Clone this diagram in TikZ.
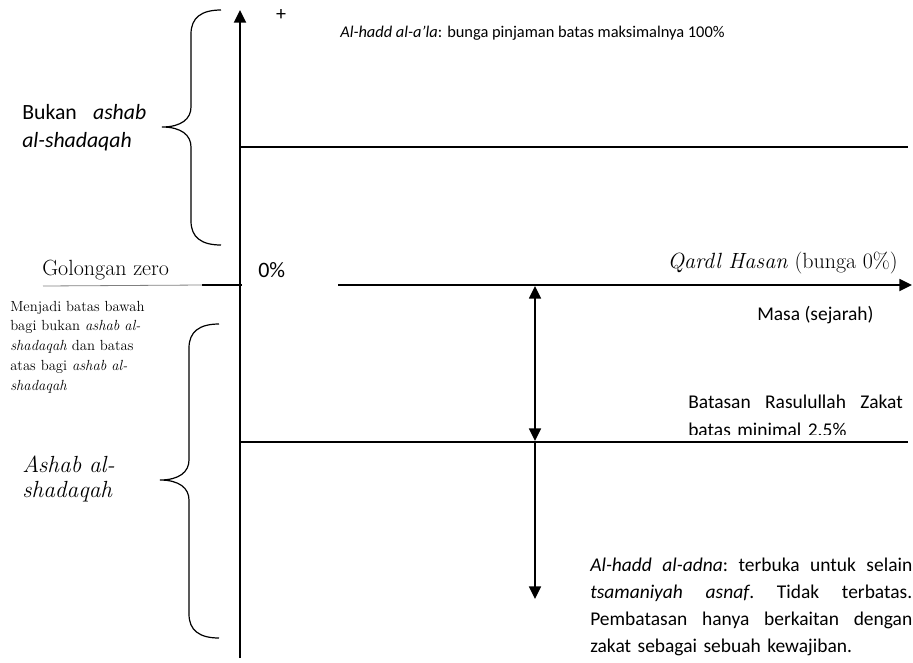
\documentclass[tikz,border=0pt]{standalone}
\usepackage{fontspec}
\newfontfamily\calibri{Carlito}
\usepackage{tikz}
\usetikzlibrary{arrows.meta}

% curly brace: x of the ends, top y, tip y, bottom y
\newcommand{\curlybrace}[4]{%
  \draw[brace, shift={(#1,0)}] (0,#2) .. controls (-20,#2) and (-30,#2+8) .. (-30,#2+24)
    -- (-30,#3-20) .. controls (-30,#3-8) and (-40,#3) .. (-59,#3)
    .. controls (-40,#3) and (-30,#3+8) .. (-30,#3+20)
    -- (-30,#4-24) .. controls (-30,#4-8) and (-20,#4) .. (0,#4);}

\begin{document}
\begin{tikzpicture}[x=0.75pt, y=-0.75pt,
  >={Triangle[length=9.5pt,width=9pt]},
  axis/.style={line width=1.4pt, ->},
  level/.style={line width=1pt},
  brace/.style={line width=0.9pt},
  dbl/.style={line width=1.2pt},
  cal/.style={font=\calibri\fontsize{14.6}{20.25}\selectfont, inner sep=0pt, anchor=base west},
  ser/.style={font=\fontsize{16.5}{20}\selectfont, inner sep=0pt, anchor=base west}]

\useasboundingbox (0,0) rectangle (913,662);

% axes
\coordinate (top) at (240,10);
\coordinate (bot) at (240,658);
\coordinate (left) at (202,285);
\coordinate (right) at (912,285);
\coordinate (gz) at (43,286);
\draw[axis] (bot) -- (top);
\draw[axis] (left) -- (right);
\draw[gray, line width=0.6pt] (gz) -- (left);

% levels
\coordinate (hi) at (240,147);
\coordinate (hiR) at (908,147);
\coordinate (lo) at (240,442);
\coordinate (loR) at (908,442);
\draw[level] (hi) -- (hiR);
\draw[level] (lo) -- (loR);

% range arrows
\coordinate (a1) at (535,286);
\coordinate (a2) at (535,441);
\coordinate (a3) at (535,599);
\draw[dbl, <->] (a1) -- (a2);
\draw[dbl, ->] (a2) -- (a3);

% braces
\curlybrace{221}{10}{127}{245}
\curlybrace{219}{324}{480}{638}

% labels
\node[cal, anchor=center, font=\calibri\fontsize{15}{15}\selectfont] (plus) at (281,15) {+};
\node[cal, font=\calibri\fontsize{12.3}{15}\selectfont] (maks) at (340,37)
  {\textit{Al-hadd al-a’la}: bunga pinjaman batas maksimalnya 100\%};
\node[cal, font=\calibri\fontsize{16.3}{21}\selectfont, text width=93pt, align=left] (bukan) at (22,119)
  {Bukan\hfill\textit{ashab}\\\textit{al-shadaqah}};
\node[ser] (gol) at (42,275) {Golongan zero};
\node[cal, font=\calibri\fontsize{16.5}{18}\selectfont, anchor=south west, fill=white,
  text width=48pt, inner xsep=12pt, text height=10.5pt, text depth=8.5pt, align=left] (zero) at (242,289) {0\%};
\node[ser, anchor=base east] (qh) at (898,268) {\textit{Qardl Hasan} (bunga 0\%)};
\node[cal] (masa) at (757,320) {Masa (sejarah)};
\node[ser, font=\fontsize{11}{14.85}\selectfont, text width=120pt, align=left] (note) at (10,311)
  {Menjadi batas bawah\\ bagi bukan \textit{ashab al-}\\ \textit{shadaqah} dan batas\\
   atas bagi \textit{ashab al-}\\ \textit{shadaqah}};
\node[ser, font=\itshape\fontsize{17.5}{18.75}\selectfont, text width=90pt, align=left] (ash) at (22,472)
  {Ashab al-\\shadaqah};
\begin{scope}
  \clip (680,380) rectangle (913,434.5);
  \node[cal, font=\calibri\fontsize{14.6}{21}\selectfont, text width=161pt, align=left] (rasul) at (688,408)
    {Batasan\hfill Rasulullah\hfill Zakat\\ batas minimal 2.5\%};
\end{scope}
\node[cal, text width=241.5pt, align=left] (adna) at (590,571)
  {\textit{Al-hadd}\hfill\textit{al-adna}:\hfill terbuka\hfill untuk\hfill selain\\
   \textit{tsamaniyah}\hfill\textit{asnaf}.\hfill Tidak\hfill terbatas.\\
   Pembatasan\hfill hanya\hfill berkaitan\hfill dengan\\
   zakat sebagai sebuah kewajiban.};

\end{tikzpicture}
\end{document}
